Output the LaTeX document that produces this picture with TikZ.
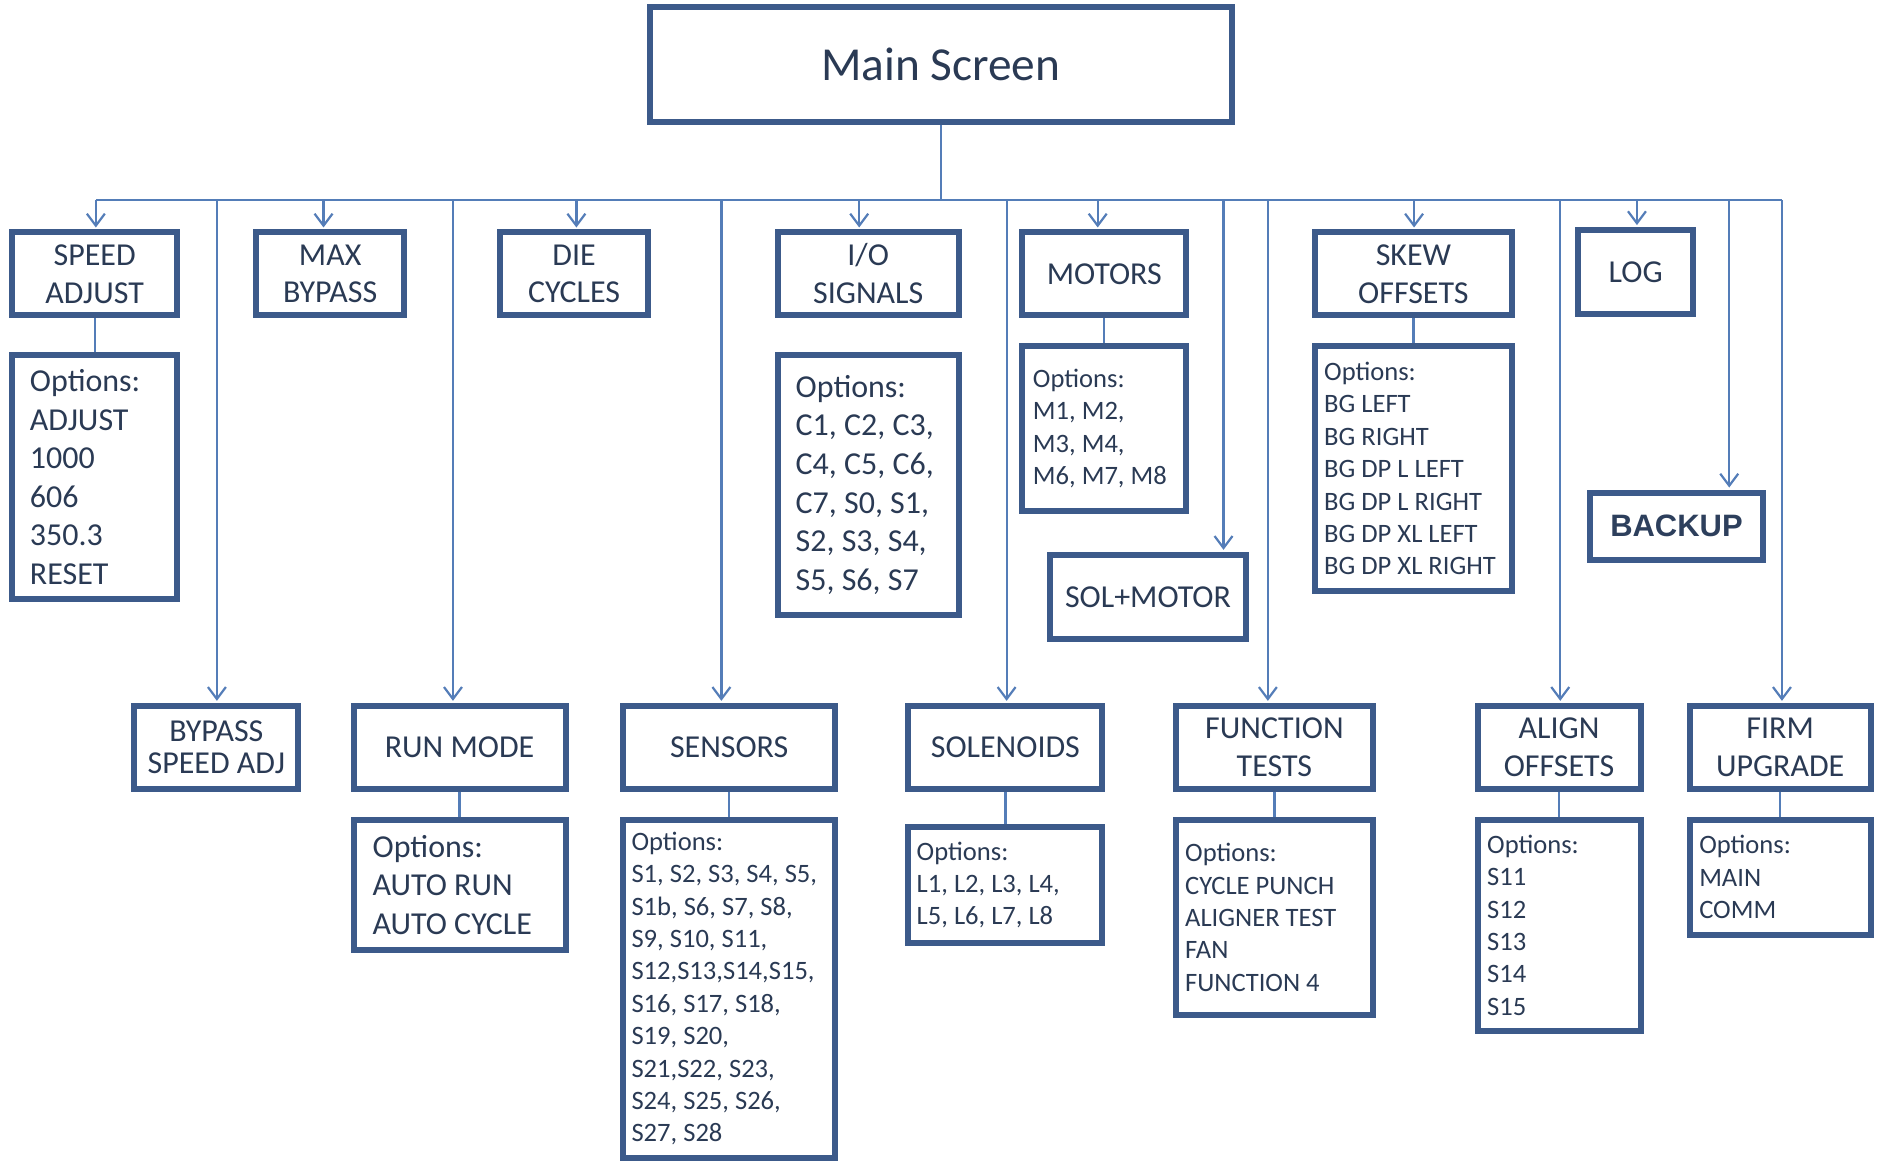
\documentclass[tikz,border=0pt]{standalone}
\usepackage{fontspec}
\setmainfont{Carlito}
\newfontfamily\arialfont{Liberation Sans}
\usetikzlibrary{arrows.meta}

\definecolor{boxblue}{RGB}{60,90,138}
\definecolor{lineblue}{RGB}{84,125,184}
\definecolor{txtblue}{RGB}{42,58,84}
\newcommand\scrfont{\fontsize{23.7}{28}\selectfont}
\newcommand\boxfont{\fontsize{16}{19}\selectfont}
\newcommand\smfont{\fontsize{13.3}{16.2}\selectfont}

\begin{document}
\begin{tikzpicture}[x=0.6pt,y=-0.6pt,
  box/.style 2 args={draw=boxblue,line width=3pt,text=txtblue,align=flush center,inner sep=0pt,
    minimum width=#1*0.6pt,minimum height=#2*0.6pt,font=\boxfont},
  opts/.style n args={3}{box={#1}{#2},align=flush left,text width=#3*0.6pt,font=\smfont},
  link/.style={draw=lineblue,line width=1.1pt},
  arr/.style={link,-{Straight Barb[length=6pt,width=9pt]},shorten >=1pt}]
  \useasboundingbox (0,0) rectangle (1568,968);

  \node[box={486}{96},font=\scrfont] (main) at (785,54) {Main Screen};

  % first row
  \node[box={138}{69}] (speed) at (79,228.5) {SPEED\\ADJUST};
  \node[box={123}{69}] (maxbp) at (275.5,228.5) {MAX\\BYPASS};
  \node[box={124}{69}] (die) at (479,228.5) {DIE\\CYCLES};
  \node[box={151}{69}] (io) at (724.5,228.5) {I/O\\SIGNALS};
  \node[box={137}{69}] (motors) at (921.5,228.5) {MOTORS};
  \node[box={165}{69}] (skew) at (1179.5,228.5) {SKEW\\OFFSETS};
  \node[box={96}{70}] (log) at (1365,227) {LOG};

  \node[opts={138}{204}{108},font={\fontsize{16}{19.3}\selectfont}] (speedopt) at (79,398)
    {Options:\\ADJUST\\1000\\606\\350.3\\RESET};
  \node[opts={151}{217}{121},font={\fontsize{16}{19.3}\selectfont}] (ioopt) at (724.5,404.5)
    {Options:\\C1, C2, C3,\\C4, C5, C6,\\C7, S0, S1,\\S2, S3, S4,\\S5, S6, S7};
  \node[opts={137}{137}{119}] (motopt) at (921.5,357.5) {Options:\\M1, M2,\\M3, M4,\\M6, M7, M8};
  \node[box={164}{70}] (solmot) at (958,498) {SOL+MOTOR};
  \node[opts={165}{204}{149}] (skewopt) at (1179.5,391)
    {Options:\\BG LEFT\\BG RIGHT\\BG DP L LEFT\\BG DP L RIGHT\\BG DP XL LEFT\\BG DP XL RIGHT};
  \node[box={144}{56},font={\arialfont\bfseries\fontsize{15.5}{18}\selectfont},text=txtblue!85!boxblue]
    (backup) at (1399,439) {BACKUP};

  % second row
  \node[box={137}{69},font={\fontsize{16}{15.6}\selectfont}] (bpspeed) at (180.5,623.5) {BYPASS\\SPEED ADJ};
  \node[box={177}{69}] (runmode) at (383.5,623.5) {RUN MODE};
  \node[box={177}{69}] (sensors) at (608.5,623.5) {SENSORS};
  \node[box={162}{69}] (solen) at (839,623.5) {SOLENOIDS};
  \node[box={165}{69}] (functest) at (1063.5,623.5) {FUNCTION\\TESTS};
  \node[box={136}{69}] (align) at (1301,623.5) {ALIGN\\OFFSETS};
  \node[box={151}{69}] (firm) at (1485.5,623.5) {FIRM\\UPGRADE};

  \node[opts={177}{109}{145},font={\fontsize{16}{19.3}\selectfont}] (runopt) at (383.5,738.5)
    {Options:\\AUTO RUN\\AUTO CYCLE};
  \node[opts={177}{282}{163}] (sensopt) at (608.5,825)
    {Options:\\S1, S2, S3, S4, S5,\\S1b, S6, S7, S8,\\S9, S10, S11,\\S12,S13,S14,S15,\\S16, S17, S18,\\S19, S20,\\S21,S22, S23,\\S24, S25, S26,\\S27, S28};
  \node[opts={162}{97}{148}] (solopt) at (839,738.5) {Options:\\L1, L2, L3, L4,\\L5, L6, L7, L8};
  \node[opts={165}{163}{149}] (funcopt) at (1063.5,765.5) {Options:\\CYCLE PUNCH\\ALIGNER TEST\\FAN\\FUNCTION 4};
  \node[opts={136}{176}{120}] (alignopt) at (1301,772) {Options:\\S11\\S12\\S13\\S14\\S15};
  \node[opts={151}{96}{135}] (firmopt) at (1485.5,732) {Options:\\MAIN\\COMM};

  % bus and connectors
  \coordinate (busL) at (80,167);
  \coordinate (busR) at (1487,167);
  \draw[link] (main) -- (main |- busL);
  \draw[link] (busL) -- (busR);
  \foreach \x/\n in {80/speed,270/maxbp,481/die,717/io,916/motors,1180/skew,1366/log,
                     181/bpspeed,378/runmode,602/sensors,840/solen,1021/solmot,1058/functest,
                     1302/align,1443/backup,1487/firm}{
    \coordinate (t\n) at (\x,167);
    \draw[arr] (t\n) -- (t\n |- \n.north);
  }
  \foreach \a/\b in {speed/speedopt,motors/motopt,skew/skewopt,runmode/runopt,sensors/sensopt,
                     solen/solopt,functest/funcopt,align/alignopt,firm/firmopt}
    \draw[link] (\a) -- (\b);
\end{tikzpicture}
\end{document}
